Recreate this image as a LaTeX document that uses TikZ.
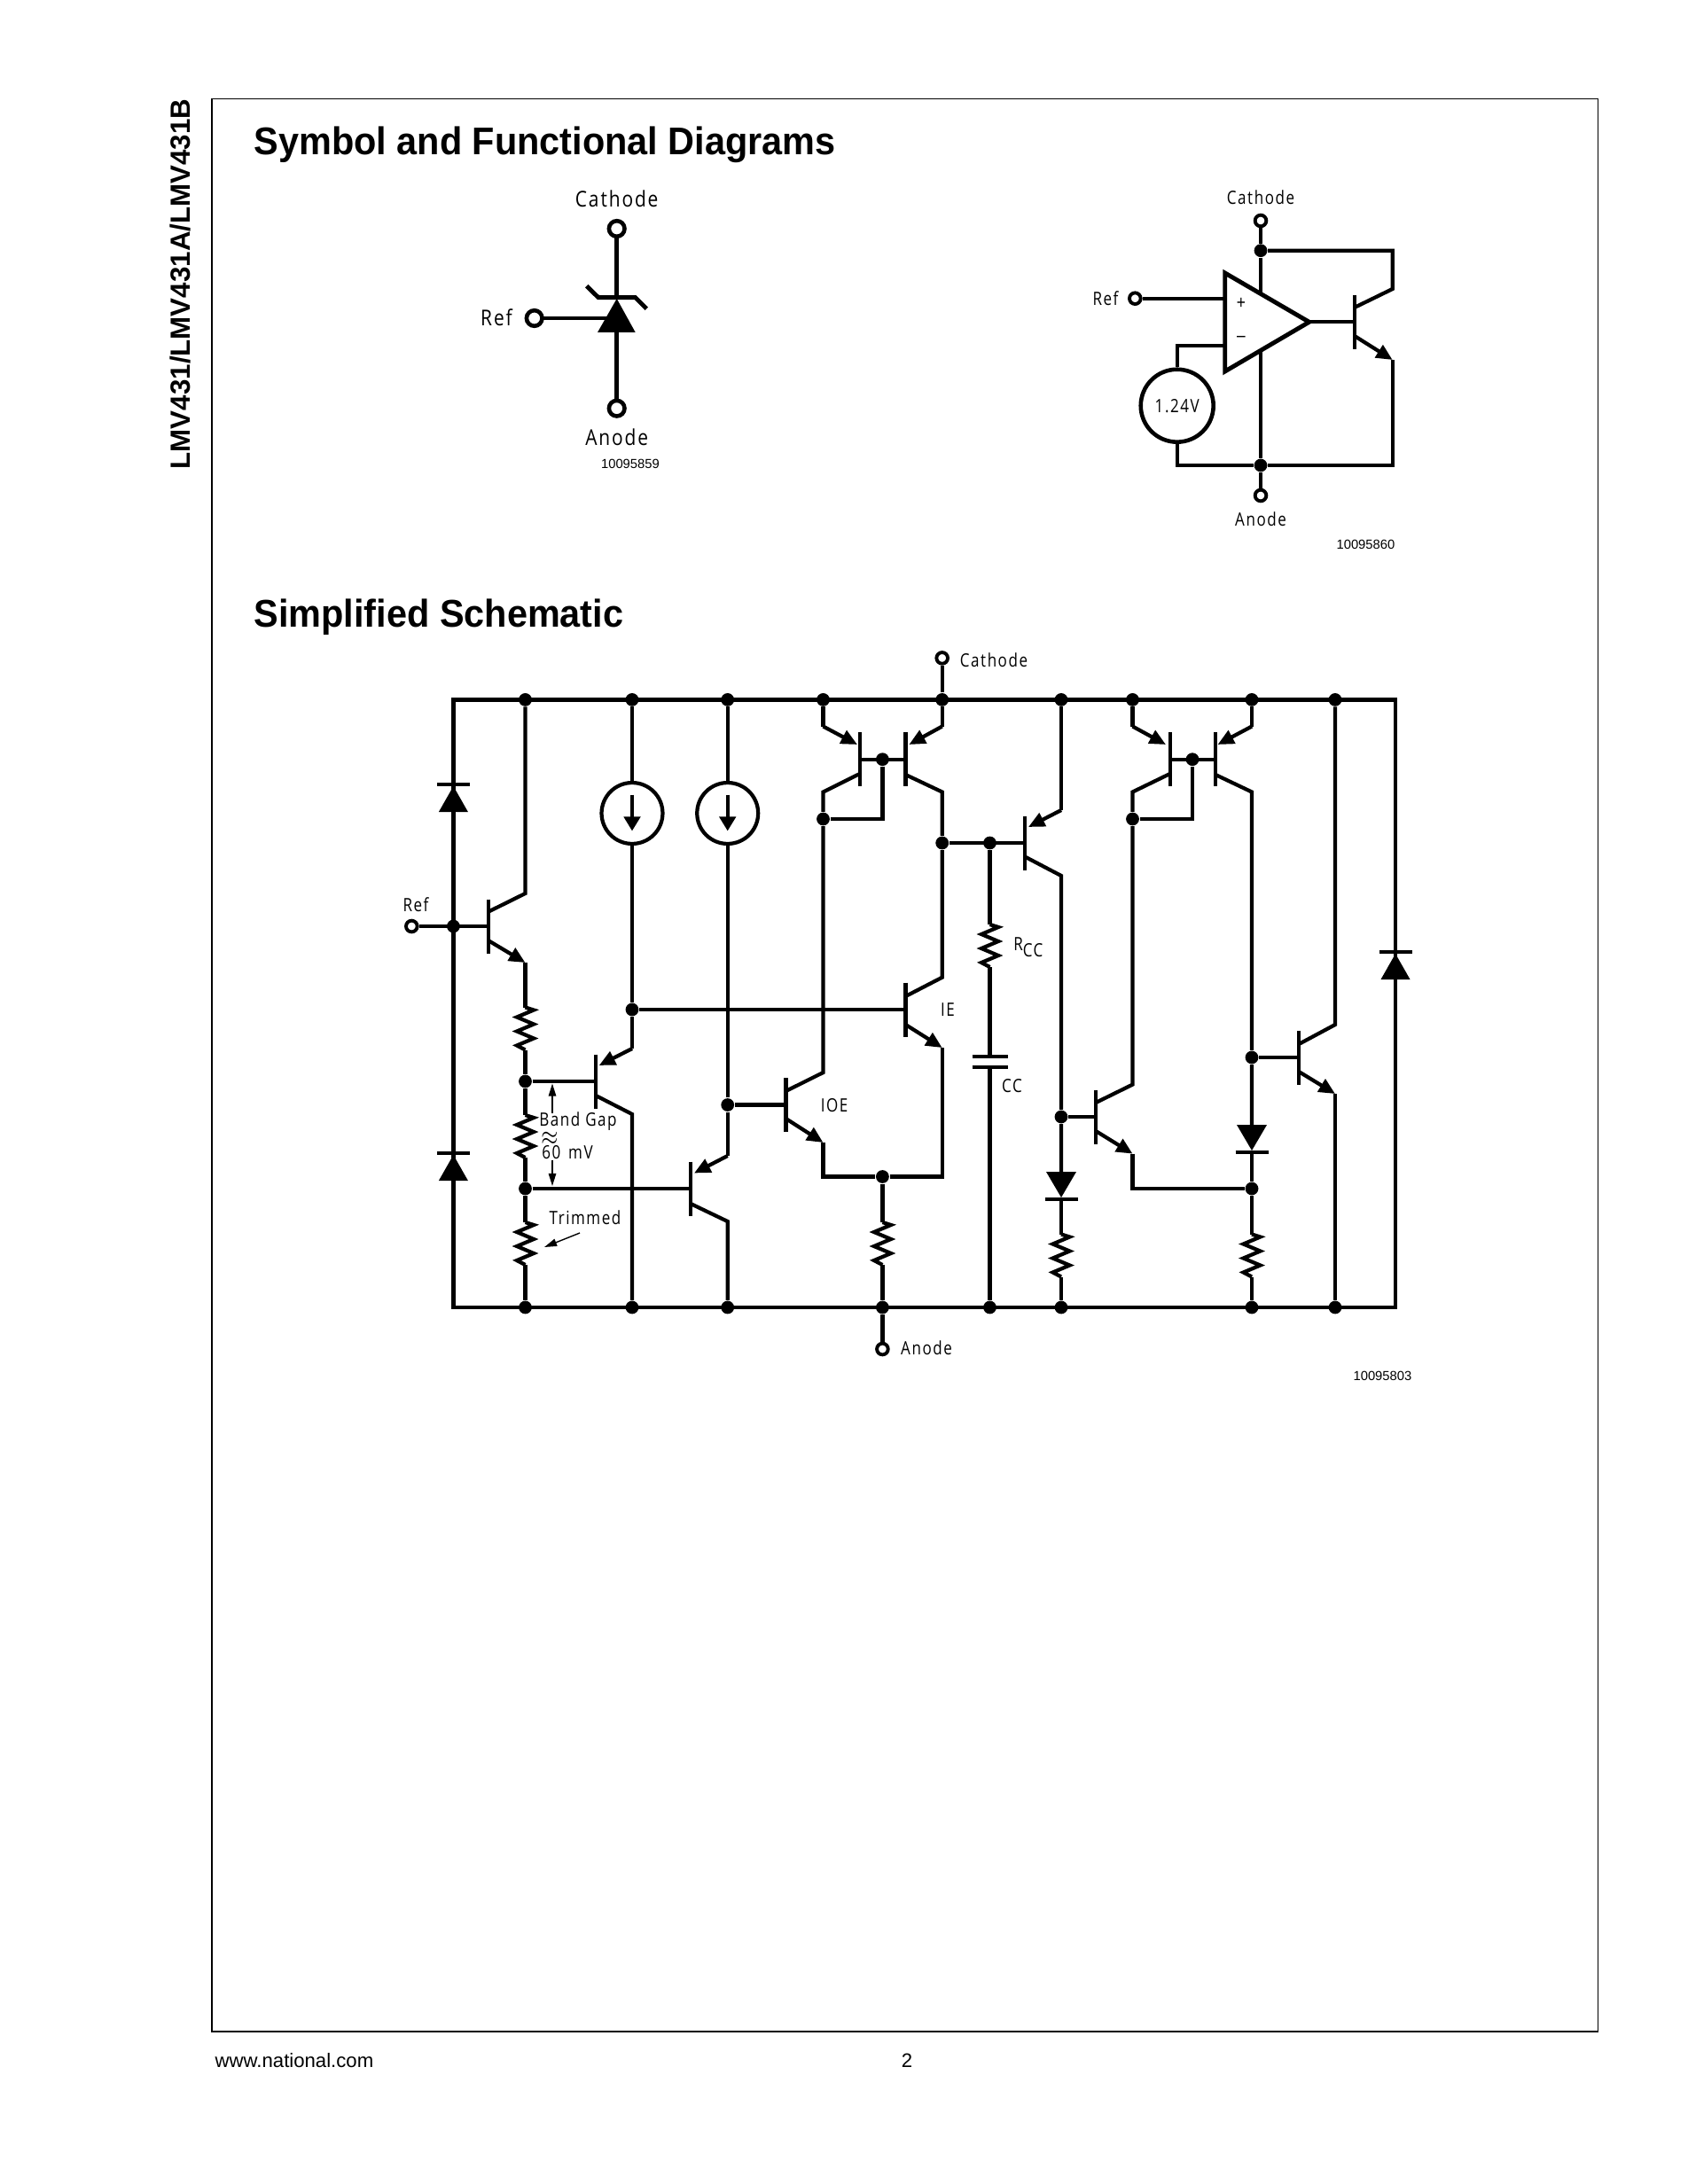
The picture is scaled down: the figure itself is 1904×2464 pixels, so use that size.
\documentclass[tikz,border=0pt]{standalone}
\usepackage{fontspec}
\setmainfont{Liberation Sans}
\newfontfamily\cadfont[LetterSpace=9]{Open Sans}
\usepackage{xcolor}
\usepackage{tikz}
\usetikzlibrary{calc,arrows.meta}
\definecolor{ink}{HTML}{000000}
\definecolor{sheet}{HTML}{FFFFFF}
\tikzset{
  wire/.style={draw=ink, line width=1.2pt, line cap=butt, line join=miter},
  thick wire/.style={draw=ink, line width=1.4pt, line join=miter},
  emit/.style={wire, -{Triangle[length=5.2pt, width=4.6pt]}},
  thin arrow/.style={draw=ink, line width=0.4pt, -{Triangle[length=4pt, width=2.4pt]}},
  dot/.style={circle, fill=ink, inner sep=0pt, minimum size=4.2pt},
  term/.style={circle, draw=ink, fill=sheet, line width=1.1pt, inner sep=0pt, minimum size=3.6pt},
  bigterm/.style={circle, draw=ink, fill=sheet, line width=1.3pt, inner sep=0pt, minimum size=5pt},
  lab/.style={font=\cadfont\fontsize{5.9}{6}\selectfont, text=ink, inner sep=0pt, xscale=0.82},
  labl/.style={font=\cadfont\fontsize{7}{8}\selectfont, text=ink, inner sep=0pt, xscale=0.85},
  idno/.style={font=\fontsize{4.2}{5}\selectfont, text=ink, inner sep=0pt},
  head/.style={font=\bfseries\fontsize{12.4}{14}\selectfont, text=ink, inner sep=0pt, anchor=west, xscale=0.95},
  foot/.style={font=\fontsize{6.3}{8}\selectfont, text=ink, inner sep=0pt},
  pics/rzig/.style={code={
    \fill[sheet] (-11,-24) rectangle (11,24);
    \draw[wire] (0,-24) -- (9.5,-21) -- (-9.5,-13) -- (9.5,-5) -- (-9.5,3) -- (9.5,11) -- (-9.5,19) -- (0,24);
  }},
  pics/diodeup/.style={code={
    \fill[ink] (0,0) -- (-16.5,29) -- (16.5,29) -- cycle;
    \draw[wire] (-18.5,-2) -- (18.5,-2);
  }},
  pics/diodedown/.style={code={
    \fill[ink] (0,29) -- (-17,0) -- (17,0) -- cycle;
    \draw[wire] (-18.5,31) -- (18.5,31);
  }},
  pics/qbar/.style={code={
    \draw[wire] (0,-30.5) -- (0,30.5);
  }},
}
\begin{document}
\begin{tikzpicture}[x=0.01cm, y=-0.01cm]
  \useasboundingbox (0,0) rectangle (1904,2464);
  \fill[sheet] (0,0) rectangle (1904,2464);

  % page furniture
  \draw[ink, line width=0.35pt] (239,111.5) rectangle (1802.5,2292);
  \node[rotate=90, font=\bfseries\fontsize{8.9}{10}\selectfont, inner sep=0pt] (side) at (203,320.5) {LMV431/LMV431A/LMV431B};
  \node[head] (title1) at (286,163.5) {Symbol and Functional Diagrams};
  \node[head] (title2) at (286,696) {Simplified Schematic};
  \node[foot, anchor=west] (web) at (242,2325) {www.national.com};
  \node[foot] (pageno) at (1023,2325) {2};

  % symbol
  \node[labl] (symcath) at (695.7,224) {Cathode};
  \node[labl] (symanode) at (695.7,493) {Anode};
  \node[labl] (symref) at (560,358) {Ref};
  \node[idno, anchor=east] (id59) at (744.5,523) {10095859};
  \coordinate (symtip) at (695.7,337);
  \coordinate (symbase) at (695.7,375);
  \draw[thick wire] (695.7,258) -- (symtip);
  \draw[thick wire] (661.7,322.7) -- (675,335.7) -- (716.7,335.7) -- (729.3,348.3);
  \draw[thick wire] (602.7,359) -- (690,359);
  \draw[thick wire] (symbase) -- (695.7,460.7);
  \fill[ink] (symtip) -- (674,375) -- (716.7,375) -- cycle;
  \node[bigterm] (sc) at (695.7,258) {};
  \node[bigterm] (sa) at (695.7,460.7) {};
  \node[bigterm] (sr) at (602.7,359) {};

  % functional diagram
  \node[lab] (fcath) at (1422,222.3) {Cathode};
  \node[lab] (fanode) at (1422,585.7) {Anode};
  \node[lab] (fref) at (1247,336.7) {Ref};
  \node[idno, anchor=east] (id60) at (1574,614) {10095860};
  \coordinate (opa) at (1381.7,308);
  \coordinate (opb) at (1381.7,419);
  \coordinate (opc) at (1476.7,363.3);
  \node[dot] (ftop) at (1422,282.7) {};
  \node[dot] (fbot) at (1422,525) {};
  \node[term] (fc) at (1422,249) {};
  \node[term] (fa) at (1422,559) {};
  \node[term] (fr) at (1280.3,336.7) {};
  \draw[thick wire] (opa) -- (opb) -- (opc) -- cycle;
  \draw[wire] (fr) -- (1381.7,336.7);
  \draw[wire] (fc) -- (ftop) -- (1422,331);
  \draw[wire] (1422,396) -- (fbot) -- (fa);
  \draw[wire] (opc) -- (1528.3,363.3);
  \pic at (1528.3,363.3) {qbar};
  \draw[wire] (ftop) -- (1570.7,282.7) -- (1570.7,326) -- (1528.3,346.7);
  \draw[wire] (fbot) -- (1570.7,525) -- (1570.7,406);
  \draw[emit] (1528.3,379.3) -- (1570.7,406);
  \node[circle, draw=ink, line width=1.3pt, inner sep=0pt, minimum size=23.3pt] (vref) at (1327.7,457.7) {};
  \node[lab] (vlab) at (vref) {1.24V};
  \draw[wire] (1381.7,390) -- (1327.7,390) -- (vref.north);
  \draw[wire] (vref.south) -- (1327.7,525) -- (fbot);
  \node[lab, font=\fontsize{6}{6}\selectfont] (plus) at (1400,342.7) {+};
  \node[lab, font=\fontsize{6}{6}\selectfont] (minus) at (1400,382.7) {--};

  % schematic rails
  \node[lab] (cathlab) at (1121,744.5) {Cathode};
  \node[lab] (anlab) at (1045,1520.5) {Anode};
  \node[lab] (reflab) at (469,1021) {Ref};
  \node[idno, anchor=east] (id03) at (1593,1552) {10095803};
  \coordinate (tl) at (511.4,789.4);
  \coordinate (tr) at (1574,789.4);
  \coordinate (bl) at (511.4,1475);
  \coordinate (br) at (1574,1475);
  \draw[wire] (tl) -- (tr) -- (br) -- (bl) -- cycle;
  \foreach \nm/\xx in {a/592.5, b/713, c/820.7, d/928.5, e/1062.7, f/1197, g/1277.5, h/1412, k/1506}
    \node[dot] (t\nm) at (\xx,789.4) {};
  \foreach \nm/\xx in {a/592.5, b/713, c/820.7, d/995.4, e/1116.5, f/1197, h/1412, k/1506}
    \node[dot] (b\nm) at (\xx,1475) {};
  \node[term] (catht) at (1062.7,742.4) {};
  \node[term] (anodet) at (995.4,1522) {};
  \node[term] (reft) at (464.3,1045) {};
  \node[dot] (refj) at (511.4,1045) {};
  \draw[wire] (te) -- (catht);
  \draw[wire] (bd) -- (anodet);
  \draw[wire] (reft) -- (550.7,1045);

  % protection diodes
  \pic at (511.4,887) {diodeup};
  \pic at (511.4,1303) {diodeup};
  \pic at (1574,1076) {diodeup};

  % input follower
  \pic at (550.7,1045) {qbar};
  \draw[wire] (ta) -- (592.5,1008) -- (550.7,1028.7);
  \draw[emit] (550.7,1061) -- (592.5,1086);
  \node[dot] (n1) at (592.5,1220) {};
  \node[dot] (n2) at (592.5,1341) {};
  \draw[wire] (592.5,1086) -- (n1) -- (n2) -- (ba);
  \pic at (592.5,1160.5) {rzig};
  \pic at (592.5,1282) {rzig};
  \pic at (592.5,1403) {rzig};

  % current sources
  \node[circle, draw=ink, fill=sheet, line width=1.2pt, inner sep=0pt, minimum size=19.6pt] (ia) at (713,917.5) {};
  \node[circle, draw=ink, fill=sheet, line width=1.2pt, inner sep=0pt, minimum size=19.6pt] (ib) at (820.7,917.5) {};
  \draw[wire] (tb) -- (ia);
  \draw[wire] (tc) -- (ib);
  \foreach \src in {ia,ib}
    \draw[wire, -{Triangle[length=4.6pt, width=5.2pt]}] ($(\src)+(0,-21)$) -- ($(\src)+(0,20)$);
  \node[dot] (n3) at (713,1139) {};
  \node[dot] (n4) at (820.7,1246.5) {};
  \draw[wire] (ia) -- (n3) -- (713,1183);
  \draw[wire] (ib) -- (n4) -- (820.7,1304);

  % pnp pair
  \pic at (672,1220) {qbar};
  \draw[wire] (n1) -- (672,1220);
  \draw[emit] (713,1183) -- (675.7,1202);
  \draw[wire] (672,1236) -- (713,1257) -- (bb);
  \pic at (779,1341) {qbar};
  \draw[wire] (n2) -- (779,1341);
  \draw[emit] (820.7,1304) -- (783,1323.5);
  \draw[wire] (779,1358) -- (820.7,1378) -- (bc);

  % band gap notes
  \node[lab] (bgap) at (652,1265) {Band Gap};
  \node[lab, font=\fontsize{8}{8}\selectfont, xscale=1] (tild) at (620,1284) {$\approx$};
  \node[lab] (mv) at (640,1300) {60\hspace{1pt} mV};
  \node[lab] (trim) at (660,1373.5) {Trimmed};
  \draw[thin arrow] (623,1255.7) -- (623,1222.5);
  \draw[thin arrow] (623,1309) -- (623,1338);
  \draw[thin arrow] (654,1391) -- (614,1407);

  % first mirror and gain stage
  \pic at (969.7,856.7) {qbar};
  \pic at (1021.5,856.7) {qbar};
  \node[dot] (m1) at (995.4,856.7) {};
  \node[dot] (m1c) at (928.5,924) {};
  \node[dot] (out1) at (1062.7,951) {};
  \node[dot] (comp) at (1116.5,951) {};
  \node[dot] (tail) at (995.4,1327.5) {};
  \draw[wire] (969.7,856.7) -- (1021.5,856.7);
  \draw[wire] (m1) -- (995.4,924) -- (m1c);
  \draw[wire] (td) -- (928.5,819.5);
  \draw[emit] (928.5,819.5) -- (967,840);
  \draw[wire] (te) -- (1062.7,819.5);
  \draw[emit] (1062.7,819.5) -- (1025.4,840);
  \draw[wire] (969.7,873) -- (928.5,893.5) -- (m1c) -- (928.5,1210) -- (886.4,1231);
  \draw[wire] (1021.5,874) -- (1062.7,893.5) -- (out1) -- (1062.7,1102.7) -- (1021.5,1124);
  \pic at (886.4,1246.5) {qbar};
  \draw[wire] (n4) -- (886.4,1246.5);
  \draw[emit] (886.4,1262) -- (928.5,1289);
  \draw[wire] (928.5,1289) -- (928.5,1327.5) -- (tail) -- (1062.7,1327.5) -- (1062.7,1182);
  \pic at (1021.5,1139) {qbar};
  \draw[wire] (n3) -- (1021.5,1139);
  \draw[emit] (1021.5,1156) -- (1062.7,1182);
  \node[lab] (ielab) at (1069,1139) {IE};
  \node[lab] (ioelab) at (941,1247) {IOE};
  \draw[wire] (tail) -- (bd);
  \pic at (995.4,1403) {rzig};

  % compensation
  \draw[wire] (out1) -- (1155.8,951);
  \draw[wire] (comp) -- (1116.5,1192);
  \draw[wire] (1116.5,1203.7) -- (be);
  \draw[wire] (1096.5,1192) -- (1136.5,1192);
  \draw[wire] (1096.5,1203.7) -- (1136.5,1203.7);
  \pic at (1116.5,1067) {rzig};
  \node[lab, anchor=west] (rcc) at (1142.7,1069) {R\raisebox{-2pt}{CC}};
  \node[lab, anchor=west] (cc) at (1129.6,1225) {CC};

  % driver
  \pic at (1155.8,951) {qbar};
  \draw[wire] (tf) -- (1197,914);
  \draw[emit] (1197,914) -- (1160,933);
  \node[dot] (n5) at (1197,1260) {};
  \draw[wire] (1155.8,966.4) -- (1197,988) -- (n5) -- (1197,1323);
  \draw[wire] (1197,1352) -- (bf);
  \pic at (1197,1322) {diodedown};
  \pic at (1197,1416.5) {rzig};

  % second mirror and output
  \pic at (1319.6,856.7) {qbar};
  \pic at (1371,856.7) {qbar};
  \node[dot] (m2) at (1345,856.7) {};
  \node[dot] (m2c) at (1277.5,924) {};
  \node[dot] (n6) at (1412,1193) {};
  \node[dot] (n7) at (1412,1341) {};
  \draw[wire] (1319.6,856.7) -- (1371,856.7);
  \draw[wire] (m2) -- (1345,924) -- (m2c);
  \draw[wire] (tg) -- (1277.5,819.5);
  \draw[emit] (1277.5,819.5) -- (1315,840);
  \draw[wire] (th) -- (1412,819.5);
  \draw[emit] (1412,819.5) -- (1373.5,840);
  \draw[wire] (1319.6,873) -- (1277.5,893.5) -- (m2c) -- (1277.5,1223.6) -- (1236,1244);
  \draw[wire] (1371,874) -- (1412,893.5) -- (n6) -- (1412,1270);
  \pic at (1412,1269) {diodedown};
  \draw[wire] (1412,1299) -- (n7) -- (bh);
  \pic at (1412,1416.5) {rzig};
  \pic at (1236,1260) {qbar};
  \draw[wire] (n5) -- (1236,1260);
  \draw[emit] (1236,1276) -- (1277.5,1301.6);
  \draw[wire] (1277.5,1301.6) -- (1277.5,1341) -- (n7);
  \pic at (1465,1193) {qbar};
  \draw[wire] (n6) -- (1465,1193);
  \draw[wire] (tk) -- (1506,1156) -- (1465,1178);
  \draw[emit] (1465,1209) -- (1506,1234);
  \draw[wire] (1506,1234) -- (bk);
\end{tikzpicture}
\end{document}
